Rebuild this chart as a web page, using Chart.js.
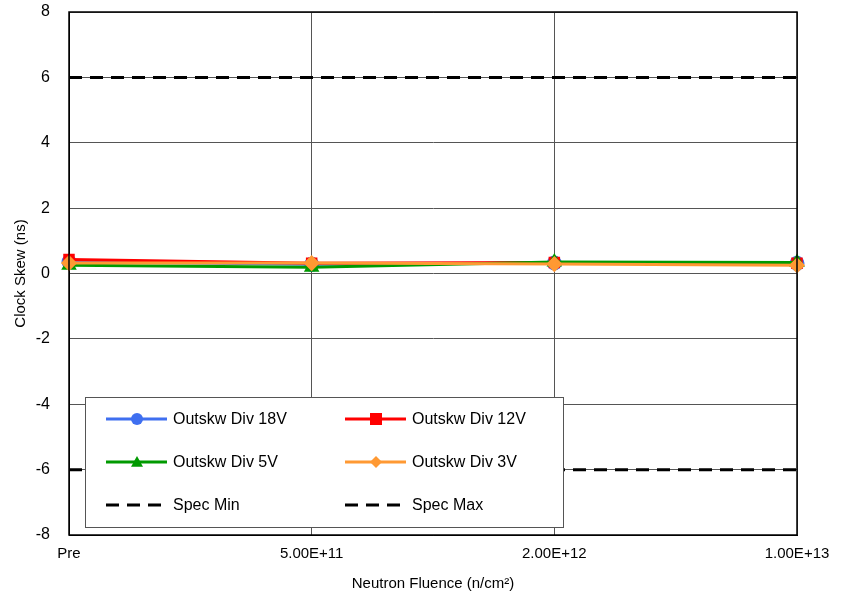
<!DOCTYPE html>
<html>
<head>
<meta charset="utf-8">
<script src="https://cdn.jsdelivr.net/npm/chart.js@4/dist/chart.umd.min.js"></script>
<style>
  html, body { margin: 0; padding: 0; background: #fff; }
  #wrap { width: 841px; height: 597px; }
</style>
</head>
<body>
<div id="wrap"><canvas id="chart" width="841" height="597"></canvas></div>
<script>
const fluence = ['Pre', '5.00E+11', '2.00E+12', '1.00E+13'];
const div18V = [0.36, 0.28, 0.32, 0.31];
const div12V = [0.43, 0.31, 0.34, 0.31];
const div5V = [0.25, 0.19, 0.35, 0.34];
const div3V = [0.32, 0.32, 0.29, 0.25];
const specMin = [-6, -6, -6, -6];
const specMax = [6, 6, 6, 6];
const yTicks = [-8, -6, -4, -2, 0, 2, 4, 6, 8];

const FONT = 'Liberation Sans, Arial, sans-serif';

const series = (label, data, color, style, order) => ({
  label, data, order,
  borderColor: color, backgroundColor: color,
  borderWidth: 3, pointStyle: style,
  pointRadius: 6, pointHoverRadius: 6,
  tension: 0
});

const specLine = (label, data) => ({
  label, data, order: 9,
  borderColor: '#000', backgroundColor: '#000',
  borderWidth: 3, borderDash: [13, 8], pointRadius: 0
});

// frame around the plot area
const frame = {
  id: 'frame',
  afterDatasetsDraw(chart) {
    const {ctx, chartArea: a} = chart;
    ctx.save();
    ctx.strokeStyle = '#000';
    ctx.lineWidth = 1.5;
    ctx.strokeRect(a.left, a.top, a.right - a.left, a.bottom - a.top);
    ctx.restore();
  }
};

// legend box inside the plot, bottom left
const boxLegend = {
  id: 'boxLegend',
  afterDraw(chart) {
    const {ctx, chartArea: a} = chart;
    const x0 = a.left + 16, y0 = a.bottom - 138, w = 478, h = 130;
    ctx.save();
    ctx.fillStyle = '#fff';
    ctx.fillRect(x0, y0, w, h);
    ctx.strokeStyle = '#555';
    ctx.lineWidth = 1;
    ctx.strokeRect(x0 + 0.5, y0 + 0.5, w, h);
    ctx.font = '16px ' + FONT;
    ctx.textBaseline = 'middle';
    chart.data.datasets.forEach((ds, i) => {
      const col = i % 2, row = Math.floor(i / 2);
      const lx = x0 + 21 + col * 239;
      const ly = y0 + 22 + row * 43;
      ctx.strokeStyle = ds.borderColor;
      ctx.lineWidth = 3;
      ctx.setLineDash(ds.borderDash || []);
      ctx.beginPath();
      ctx.moveTo(lx, ly);
      ctx.lineTo(lx + 61, ly);
      ctx.stroke();
      ctx.setLineDash([]);
      if (ds.pointRadius) {
        ctx.fillStyle = ds.backgroundColor;
        const cx = lx + 31, r = 6;
        ctx.beginPath();
        if (ds.pointStyle === 'circle') ctx.arc(cx, ly, r, 0, Math.PI * 2);
        else if (ds.pointStyle === 'rect') ctx.rect(cx - r, ly - r, 2 * r, 2 * r);
        else if (ds.pointStyle === 'triangle') { ctx.moveTo(cx, ly - r); ctx.lineTo(cx + r, ly + r * 0.8); ctx.lineTo(cx - r, ly + r * 0.8); ctx.closePath(); }
        else { ctx.moveTo(cx, ly - r); ctx.lineTo(cx + r, ly); ctx.lineTo(cx, ly + r); ctx.lineTo(cx - r, ly); ctx.closePath(); }
        ctx.fill();
      }
      ctx.fillStyle = '#000';
      ctx.fillText(ds.label, lx + 67, ly + 1);
    });
    ctx.restore();
  }
};

new Chart(document.getElementById('chart'), {
  type: 'line',
  data: {
    labels: fluence,
    datasets: [
      series('Outskw Div 18V', div18V, '#3F6FF0', 'circle', 4),
      series('Outskw Div 12V', div12V, '#FF0000', 'rect', 3),
      series('Outskw Div 5V', div5V, '#009A00', 'triangle', 2),
      series('Outskw Div 3V', div3V, '#FF9933', 'rectRot', 1),
      specLine('Spec Min', specMin),
      specLine('Spec Max', specMax)
    ]
  },
  options: {
    responsive: false,
    animation: false,
    layout: { padding: { top: 12, right: 44, left: 8, bottom: 0 } },
    plugins: { legend: { display: false }, tooltip: { enabled: false } },
    scales: {
      x: {
        offset: false,
        grid: { color: '#555', lineWidth: 1, drawTicks: false },
        border: { color: '#000' },
        ticks: { color: '#000', font: { family: FONT, size: 15 }, padding: 10, maxRotation: 0 },
        title: { display: true, text: 'Neutron Fluence (n/cm²)', color: '#000', font: { family: FONT, size: 15 }, padding: { top: 6 } },
        afterFit(s) { s.height = 62; }
      },
      y: {
        min: -8, max: 8,
        afterBuildTicks(s) { s.ticks = yTicks.map(v => ({ value: v })); },
        grid: { color: '#555', lineWidth: 1, drawTicks: false },
        border: { color: '#000' },
        ticks: { color: '#000', font: { family: FONT, size: 16 }, padding: 19 },
        title: { display: true, text: 'Clock Skew (ns)', color: '#000', font: { family: FONT, size: 15 } },
        afterFit(s) { s.width = 61; s.paddingTop = 0; s.paddingBottom = 0; }
      }
    }
  },
  plugins: [frame, boxLegend]
});
</script>
</body>
</html>
